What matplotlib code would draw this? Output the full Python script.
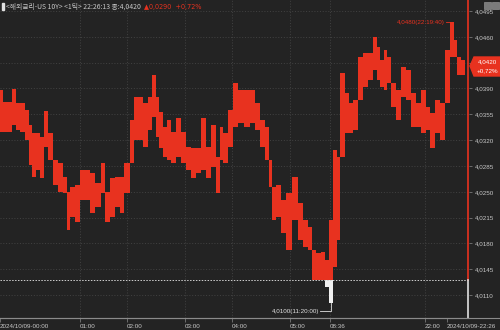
import numpy as np
import matplotlib
matplotlib.use('Agg')
import matplotlib.pyplot as plt
from matplotlib.patches import Rectangle, Polygon
from matplotlib.lines import Line2D

BG = '#232323'
RED = '#e8321f'
GRID = '#4c4c4c'
TXT = '#c8c8c8'

# tick index (screen column) with the high / low of each step
idx = [0, 5, 10, 14, 18, 22, 27, 31, 33, 38, 42, 46, 50, 55, 60, 65, 68, 72, 78, 82,
       87, 92, 98, 103, 107, 112, 118, 121, 127, 132, 135, 140, 145, 150, 154, 157, 160, 165, 168, 173,
       178, 183, 188, 193, 198, 203, 208, 213, 218, 221, 225, 230, 235, 240, 247, 252, 257, 262, 267, 270,
       273, 278, 283, 288, 295, 300, 305, 310, 313, 318, 323, 327, 330, 335, 338, 342, 347, 350, 355, 360,
       365, 370, 375, 378, 382, 385, 388, 393, 398, 403, 408, 413, 418, 423, 428, 432, 437, 442, 447, 452,
       455, 458, 463]
hi = [4.0388, 4.0372, 4.0372, 4.0389, 4.0370, 4.0370, 4.0361, 4.0340, 4.0330, 4.0330, 4.0324, 4.0359, 4.0330, 4.0290, 4.0289, 4.0270, 4.0250, 4.0257, 4.0259, 4.0280,
      4.0280, 4.0275, 4.0262, 4.0289, 4.0250, 4.0269, 4.0270, 4.0270, 4.0289, 4.0347, 4.0378, 4.0378, 4.0370, 4.0378, 4.0408, 4.0378, 4.0358, 4.0338, 4.0347, 4.0331,
      4.0350, 4.0331, 4.0311, 4.0309, 4.0309, 4.0350, 4.0311, 4.0340, 4.0297, 4.0338, 4.0330, 4.0361, 4.0397, 4.0388, 4.0388, 4.0388, 4.0370, 4.0347, 4.0338, 4.0293,
      4.0257, 4.0259, 4.0239, 4.0248, 4.0270, 4.0235, 4.0212, 4.0202, 4.0171, 4.0167, 4.0168, 4.0158, 4.0212, 4.0307, 4.0297, 4.0411, 4.0384, 4.0370, 4.0374, 4.0433,
      4.0438, 4.0438, 4.0460, 4.0446, 4.0429, 4.0442, 4.0433, 4.0397, 4.0388, 4.0419, 4.0415, 4.0384, 4.0370, 4.0388, 4.0365, 4.0357, 4.0374, 4.0370, 4.0442, 4.0480,
      4.0456, 4.0429, 4.0429]
lo = [4.0331, 4.0331, 4.0331, 4.0340, 4.0334, 4.0331, 4.0320, 4.0286, 4.0270, 4.0280, 4.0269, 4.0311, 4.0293, 4.0259, 4.0250, 4.0248, 4.0198, 4.0216, 4.0209, 4.0239,
      4.0239, 4.0221, 4.0229, 4.0248, 4.0209, 4.0216, 4.0229, 4.0221, 4.0248, 4.0297, 4.0320, 4.0320, 4.0311, 4.0334, 4.0351, 4.0324, 4.0309, 4.0297, 4.0293, 4.0289,
      4.0297, 4.0289, 4.0280, 4.0269, 4.0275, 4.0280, 4.0269, 4.0284, 4.0248, 4.0293, 4.0289, 4.0311, 4.0338, 4.0343, 4.0338, 4.0343, 4.0334, 4.0311, 4.0293, 4.0257,
      4.0212, 4.0216, 4.0194, 4.0171, 4.0212, 4.0185, 4.0175, 4.0171, 4.0131, 4.0131, 4.0131, 4.0121, 4.0100, 4.0148, 4.0185, 4.0351, 4.0330, 4.0330, 4.0334, 4.0378,
      4.0392, 4.0402, 4.0415, 4.0402, 4.0392, 4.0388, 4.0397, 4.0365, 4.0347, 4.0378, 4.0374, 4.0338, 4.0338, 4.0330, 4.0334, 4.0309, 4.0330, 4.0320, 4.0392, 4.0433,
      4.0433, 4.0408, 4.0408]

base = 4.0130   # previous close
last = 4.0420

yticks = [4.0495, 4.0460, 4.0425, 4.0390, 4.0355, 4.0320, 4.0285, 4.0250, 4.0215, 4.0180, 4.0145, 4.0110]
xticks = [0, 80, 127, 185, 232, 290, 330, 425, 447]
xlabels = ['2024/10/09-00:00', '01:00', '02:00', '03:00', '04:00', '05:00', '08:36', '22:00', '2024/10/09-22:26']

x = np.array(idx, dtype=float)
hi = np.array(hi)
lo = np.array(lo)

# steps touch each other: widen every bar to reach its neighbour's range
top = hi.copy()
bot = lo.copy()
top[1:] = np.maximum(top[1:], lo[:-1])
bot[1:] = np.minimum(bot[1:], hi[:-1])

edges = np.concatenate([[x[0] - 2], (x[1:] + x[:-1]) / 2, [x[-1] + 2]])
left = edges[:-1]
w = np.diff(edges)

fig = plt.figure(figsize=(5, 3.3), dpi=100, facecolor=BG)
ax = fig.add_axes([0, 12 / 330, 469 / 500, 318 / 330])
ax.set_facecolor(BG)
ax.set_xlim(0, 469)
ax.set_ylim(4.00790, 4.05099)

# grid
for v in yticks:
    ax.axhline(v, color=GRID, lw=0.5, ls=(0, (1.5, 2.5)), zorder=0)
for t in xticks[1:-1]:
    ax.axvline(t, color=GRID, lw=0.5, ls=(0, (1.5, 2.5)), zorder=0)

# bars: red above the previous close, white below it
r_bot = np.maximum(bot, base)
ax.bar(left, np.clip(top - r_bot, 0, None), bottom=r_bot, width=w, align='edge',
       color=RED, lw=0, zorder=2)
w_top = np.minimum(top, base)
ax.bar(left, np.clip(w_top - bot, 0, None), bottom=bot, width=w, align='edge',
       color='#f0f0f0', lw=0, zorder=2)

ax.axhline(base, color='#d0d0d0', lw=0.7, ls=(0, (1.5, 1.5)), zorder=3)

# "now" line
ax.plot([468, 468], [base, 4.05099], color=RED, lw=1.2, clip_on=False, zorder=4)
ax.plot([468, 468], [4.00790, base], color='#e0e0e0', lw=1.2, clip_on=False, zorder=4)

# high / low markers
imax = int(np.argmax(hi))
imin = int(np.argmin(lo))
ax.plot([x[imax] - 6, x[imax] - 2, x[imax] - 2], [hi[imax], hi[imax], hi[imax] - 0.0004], color=RED, lw=0.6, zorder=5)
ax.text(x[imax] - 7, hi[imax], '4,0480(22:19:40)', color=RED, fontsize=4.5, family='Liberation Sans',
        ha='right', va='center', zorder=5)
ax.plot([x[imin] - 10, x[imin] + 1, x[imin] + 1], [lo[imin] - 0.0012, lo[imin] - 0.0012, lo[imin]],
        color='#e0e0e0', lw=0.6, zorder=5)
ax.text(x[imin] - 11, lo[imin] - 0.0012, '4,0100(11:20:00)', color='#e0e0e0', fontsize=4.5,
        family='Liberation Sans', ha='right', va='center', zorder=5)

for s in ['top', 'left', 'right']:
    ax.spines[s].set_visible(False)
ax.spines['bottom'].set_color('#8a8a8a')
ax.spines['bottom'].set_linewidth(0.8)

ax.yaxis.tick_right()
ax.set_yticks(yticks)
# the label under the price tag is hidden
ax.set_yticklabels(['' if v == 4.0425 else ('%.4f' % v).replace('.', ',') for v in yticks])
ax.tick_params(axis='y', colors='#8a8a8a', labelcolor=TXT, length=2, width=0.5, pad=2,
               labelsize=4.5, direction='out')
ax.set_xticks(xticks)
ax.set_xticklabels(xlabels)
ax.tick_params(axis='x', colors='#8a8a8a', labelcolor=TXT, length=3, width=0.5, pad=1,
               labelsize=4.5, direction='out')
for lab in ax.get_xticklabels() + ax.get_yticklabels():
    lab.set_family('Liberation Sans')
for lab in ax.get_xticklabels():
    lab.set_horizontalalignment('left')

fig.add_artist(Line2D([0, 1], [12 / 330, 12 / 330], color='#8a8a8a', lw=0.8))

# current price tag
tag = Polygon([[470 / 500, 1 - 66 / 330], [474 / 500, 1 - 57 / 330], [500 / 500, 1 - 57 / 330],
               [500 / 500, 1 - 76 / 330], [474 / 500, 1 - 76 / 330]], closed=True,
              transform=fig.transFigure, color=RED, zorder=10)
fig.add_artist(tag)
fig.text(487 / 500, 1 - 62 / 330, ('%.4f' % last).replace('.', ','), color='white', fontsize=4.5,
         family='Liberation Sans', ha='center', va='center', zorder=11)
fig.text(487 / 500, 1 - 71 / 330, '+0,72%', color='white', fontsize=4.5,
         family='Liberation Sans', ha='center', va='center', zorder=11)

# corner buttons
for bx in [484, 492]:
    fig.add_artist(Rectangle((bx / 500, 1 - 9 / 330), 7 / 500, 7 / 330, transform=fig.transFigure,
                             facecolor='#7a7a7a', edgecolor='#a0a0a0', lw=0.4, zorder=10))

# header
fig.add_artist(Rectangle((2 / 500, 1 - 10 / 330), 2 / 500, 7 / 330, transform=fig.transFigure,
                         color='#e0e0e0', zorder=10))
fig.text(6 / 500, 1 - 7 / 330, '<해외금리-US 10Y> <1틱> 22:26:13 종:4,0420', color=TXT, fontsize=4.9,
         family=['Noto Sans CJK KR', 'DejaVu Sans'], ha='left', va='center', zorder=11)
fig.text(144 / 500, 1 - 7 / 330, '▲0,0290  +0,72%', color=RED, fontsize=4.7,
         family=['DejaVu Sans'], ha='left', va='center', zorder=11)

fig.savefig('out.png', dpi=100, facecolor=BG)
